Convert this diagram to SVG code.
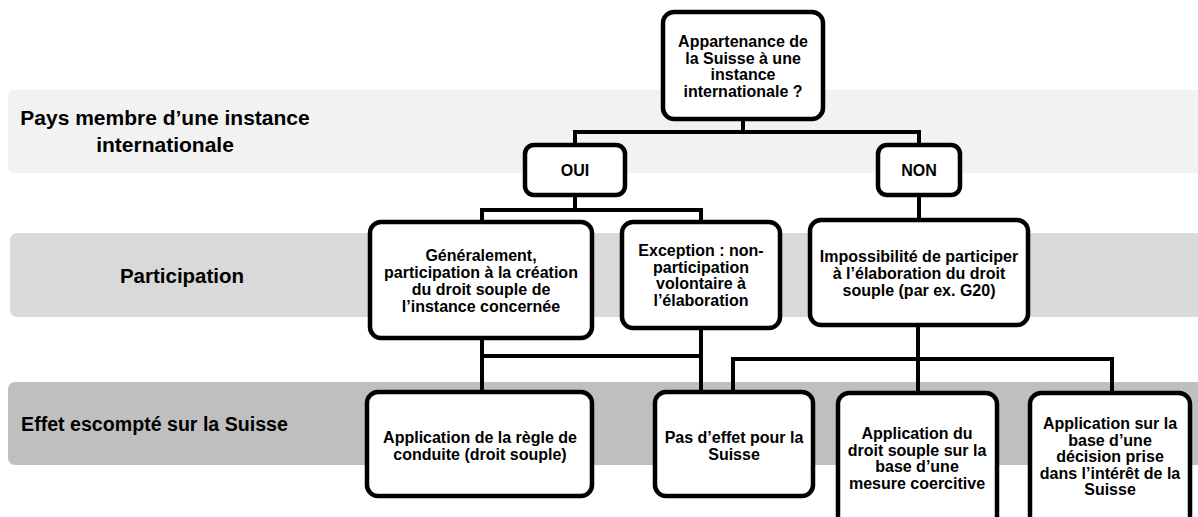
<svg xmlns="http://www.w3.org/2000/svg" width="1198" height="517" viewBox="0 0 1198 517">
<style>
.band1{fill:#f2f2f2}
.band2{fill:#d9d9d9}
.band3{fill:#bfbfbf}
.lbl{font-family:"Liberation Sans",Arial,sans-serif;font-weight:bold;font-size:21px;fill:#000;text-anchor:middle}
.box{fill:#fff;stroke:#000;stroke-width:4.5}
.t{font-family:"Liberation Sans",Arial,sans-serif;font-weight:bold;font-size:16px;fill:#000;text-anchor:middle}
.conn{fill:none;stroke:#000;stroke-width:4;stroke-linejoin:miter}
</style>
<g id="bands">
<rect class="band1" x="8" y="90" width="1200" height="83" rx="7"/>
<rect class="band2" x="10" y="233" width="1200" height="84" rx="7"/>
<rect class="band3" x="8" y="382" width="1200" height="83" rx="7"/>
<text class="lbl" x="165" y="125">Pays membre d’une instance</text>
<text class="lbl" x="165" y="152">internationale</text>
<text class="lbl" x="182" y="283" style="font-size:20.5px">Participation</text>
<text class="lbl" x="154.5" y="431" style="font-size:19.6px">Effet escompté sur la Suisse</text>
</g>
<g id="connectors">
<path class="conn" d="M743,119 V132 M575,145 V132 H919 V145"/>
<path class="conn" d="M575,195 V210 M482,222 V210 H701 V222"/>
<path class="conn" d="M919,195 V220"/>
<path class="conn" d="M482,338 V392 M482,356 H701 M701,328 V392"/>
<path class="conn" d="M918,325 V359 M733,392 V359 H1112 V393 M918,359 V393"/>
</g>
<g id="n-top">
<rect class="box" x="663" y="12" width="160" height="107" rx="11"/>
<text class="t" x="743" y="47">Appartenance de</text>
<text class="t" x="743" y="63.5">la Suisse à une</text>
<text class="t" x="743" y="80">instance</text>
<text class="t" x="743" y="96.5">internationale ?</text>
</g>
<g id="n-oui">
<rect class="box" x="525" y="145" width="100" height="50" rx="9"/>
<text class="t" x="575" y="176">OUI</text>
</g>
<g id="n-non">
<rect class="box" x="878" y="145" width="82" height="50" rx="9"/>
<text class="t" x="919" y="176">NON</text>
</g>
<g id="n-general">
<rect class="box" x="370" y="222" width="222" height="116" rx="11"/>
<text class="t" x="481" y="261">Généralement,</text>
<text class="t" x="481" y="278">participation à la création</text>
<text class="t" x="481" y="295">du droit souple de</text>
<text class="t" x="481" y="312">l’instance concernée</text>
</g>
<g id="n-exception">
<rect class="box" x="622" y="222" width="158" height="106" rx="11"/>
<text class="t" x="701" y="256">Exception : non-</text>
<text class="t" x="701" y="272.5">participation</text>
<text class="t" x="701" y="289">volontaire à</text>
<text class="t" x="701" y="305.5">l’élaboration</text>
</g>
<g id="n-impossible">
<rect class="box" x="810" y="220" width="218" height="105" rx="11"/>
<text class="t" x="919" y="262">Impossibilité de participer</text>
<text class="t" x="919" y="279">à l’élaboration du droit</text>
<text class="t" x="919" y="296">souple (par ex. G20)</text>
</g>
<g id="n-regle">
<rect class="box" x="367" y="392" width="225" height="104" rx="11"/>
<text class="t" x="480" y="443">Application de la règle de</text>
<text class="t" x="480" y="459.5">conduite (droit souple)</text>
</g>
<g id="n-pas">
<rect class="box" x="655" y="392" width="158" height="104" rx="11"/>
<text class="t" x="734" y="443">Pas d’effet pour la</text>
<text class="t" x="734" y="459.5">Suisse</text>
</g>
<g id="n-coercitive">
<rect class="box" x="838" y="393" width="159" height="135" rx="11"/>
<text class="t" x="917" y="439">Application du</text>
<text class="t" x="917" y="455.5">droit souple sur la</text>
<text class="t" x="917" y="472">base d’une</text>
<text class="t" x="917" y="488.5">mesure coercitive</text>
</g>
<g id="n-interet">
<rect class="box" x="1030" y="393" width="160" height="135" rx="11"/>
<text class="t" x="1110" y="429">Application sur la</text>
<text class="t" x="1110" y="445.5">base d’une</text>
<text class="t" x="1110" y="462">décision prise</text>
<text class="t" x="1110" y="478.5">dans l’intérêt de la</text>
<text class="t" x="1110" y="495">Suisse</text>
</g>
</svg>
